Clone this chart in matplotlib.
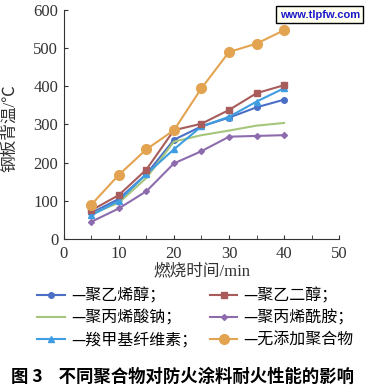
import matplotlib

matplotlib.use("Agg")
import matplotlib.pyplot as plt
from matplotlib.ticker import MultipleLocator

plt.rcParams["font.family"] = ["Liberation Serif", "Noto Sans CJK SC"]

times = [5, 10, 15, 20, 25, 30, 35, 40]
pva = [68, 105, 170, 260, 295, 318, 345, 365]
peg = [75, 115, 182, 285, 302, 338, 382, 403]
paas = [65, 95, 160, 255, 272, 284, 297, 304]
pam = [45, 80, 125, 198, 230, 268, 270, 272]
cmc = [62, 100, 170, 235, 295, 320, 360, 395]
blank = [90, 168, 235, 285, 395, 490, 512, 547]

series = [
    ("—聚乙烯醇；", pva, "#4b6fc6", "o", 4),
    ("—聚丙烯酸钠；", paas, "#a6c67c", "", 3),
    ("—羧甲基纤维素；", cmc, "#3f9de2", "^", 4),
    ("—聚乙二醇；", peg, "#a85c5c", "s", 4),
    ("—聚丙烯酰胺；", pam, "#8d6cae", "D", 3),
    ("—无添加聚合物", blank, "#e3a452", "o", 7),
]

fig = plt.figure(figsize=(3.69, 3.86), dpi=100)
ax = fig.add_axes([0.173, 0.381, 0.746, 0.593])

for label, vals, color, marker, ms in series:
    ax.plot(times, vals, color=color, marker=marker, ms=ms, lw=1.5, label=label)

ax.set_xlim(0, 50)
ax.set_ylim(0, 600)
ax.set_xticks(range(0, 51, 10))
ax.set_xticks(range(5, 50, 10), minor=True)
ax.yaxis.set_major_locator(MultipleLocator(100))
ax.tick_params(which="both", direction="in", labelsize=12, color="#333333",
               labelcolor="#333333", length=3)
ax.tick_params(axis="x", pad=5)
ax.tick_params(axis="y", pad=4)
ax.spines[["top", "right"]].set_visible(False)
for s in ("left", "bottom"):
    ax.spines[s].set_color("#333333")
    ax.spines[s].set_linewidth(0.8)
ax.set_xlabel("燃烧时间/min", fontsize=12, labelpad=1, color="#333333")
ax.set_ylabel("钢板背温/℃", fontsize=12, color="#333333")
ax.yaxis.set_label_coords(-0.165, 0.485)

handles, labels = ax.get_legend_handles_labels()
fig.legend(
    handles,
    labels,
    ncol=2,
    loc="upper center",
    bbox_to_anchor=(0.53, 0.292),
    frameon=False,
    handlelength=1.7,
    columnspacing=0.8,
    labelspacing=0.3,
    handletextpad=0.4,
    prop={"family": ["Noto Sans CJK SC"], "size": 11.5},
)

fig.text(
    0.867,
    0.962,
    "www.tlpfw.com",
    ha="center",
    va="center",
    fontsize=8,
    fontweight="bold",
    color="#1a1acc",
    family=["Liberation Sans"],
    bbox=dict(boxstyle="square,pad=0.3", fc="#fffff0", ec="black", lw=1),
)
fig.text(
    0.03,
    0.023,
    "图 3    不同聚合物对防火涂料耐火性能的影响",
    ha="left",
    va="center",
    fontsize=12.5,
    fontweight="bold",
    family=["Noto Sans CJK SC"],
)

fig.savefig("out.png", dpi=100)
